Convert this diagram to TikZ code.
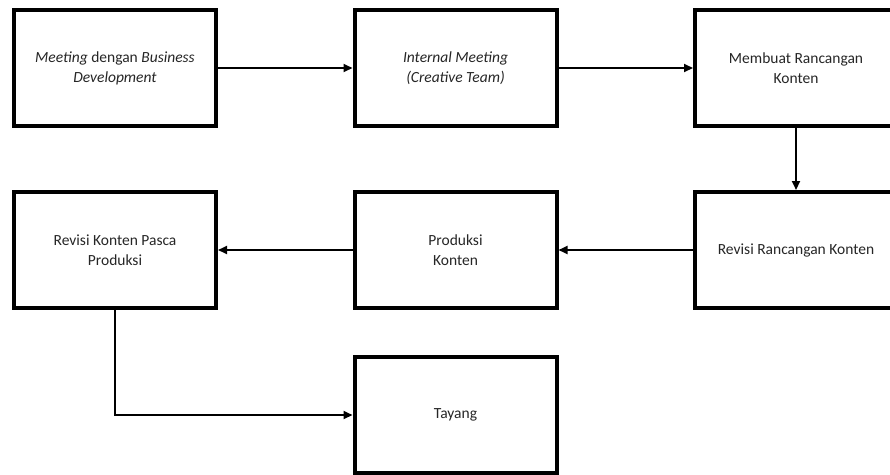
\documentclass[tikz,border=0pt]{standalone}
\usepackage{fontspec}
\setmainfont{Carlito}
\usetikzlibrary{arrows.meta}
\begin{document}
\begin{tikzpicture}[x=1pt,y=-1pt,
  box/.style={draw=black, line width=4pt, fill=white, minimum width=202pt, minimum height=116pt,
    inner sep=0pt, align=center, font=\fontsize{15.5}{20}\selectfont, text=black!85},
  conn/.style={line width=2pt, -{Triangle[length=9pt,width=8pt]}}]
\useasboundingbox (0,0) rectangle (890,474);
\clip (0,0) rectangle (890,474);
\fill[white] (0,0) rectangle (890,474);
\node[box] (b1) at (115,68) {\textit{Meeting} dengan \textit{Business}\\\textit{Development}};
\node[box] (b2) at (455.5,68) {\textit{Internal Meeting}\\\textit{(Creative Team)}};
\node[box] (b3) at (796,68) {Membuat Rancangan\\Konten};
\node[box] (b4) at (796,250) {Revisi Rancangan Konten};
\node[box] (b5) at (455.5,250) {Produksi\\Konten};
\node[box] (b6) at (115,250) {Revisi Konten Pasca\\Produksi};
\node[box] (b7) at (455.5,415) {Tayang};
\draw[conn] (b1.east) -- (b2.west);
\draw[conn] (b2.east) -- (b3.west);
\draw[conn] (b3.south) -- (b4.north);
\draw[conn] (b4.west) -- (b5.east);
\draw[conn] (b5.west) -- (b6.east);
\draw[conn] (b6.south) |- (b7.west);
\end{tikzpicture}
\end{document}
